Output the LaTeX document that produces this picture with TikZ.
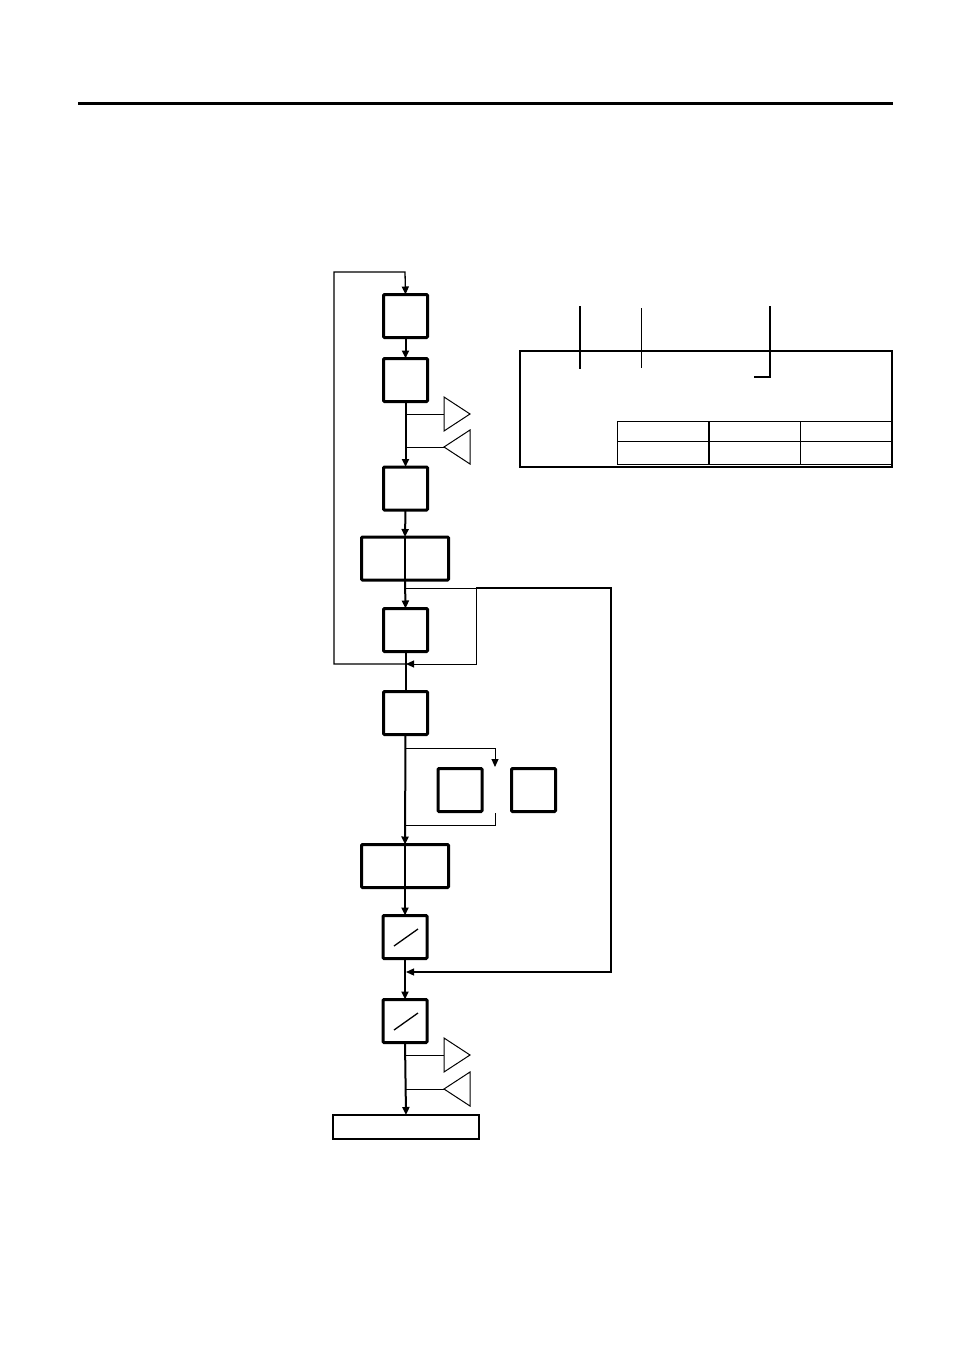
\documentclass[tikz,border=0pt]{standalone}
\usetikzlibrary{arrows.meta,shapes.geometric,calc}
\begin{document}
\begin{tikzpicture}[x=1pt,y=-1pt,
  box/.style={draw,line width=3pt,rounded corners=1pt,minimum width=44pt,minimum height=43pt,inner sep=0pt,outer sep=0pt},
  widebox/.style={box,minimum width=87pt},
  endbox/.style={draw,line width=2pt,minimum width=146pt,minimum height=24pt,inner sep=0pt,outer sep=0pt},
  tri/.style={draw,line width=1pt,isosceles triangle,isosceles triangle stretches,minimum width=34pt,minimum height=26pt,inner sep=0pt,outer sep=0pt},
  main/.style={line width=2pt},
  flow/.style={main,-{Triangle[length=8pt,width=7pt]}},
  thin/.style={line width=1pt},
  thinflow/.style={thin,-{Triangle[length=8pt,width=7pt]}},
  loopline/.style={line width=1.3pt}]
\useasboundingbox (0,0) rectangle (954,1351);
% top rule
\coordinate (r1) at (78,104);
\coordinate (r2) at (893,104);
\draw[line width=3pt] (r1) -- (r2);
% boxes
\node[box] (b1) at (405.5,316) {};
\node[box] (b2) at (405.5,380) {};
\node[box] (b3) at (405.5,488.5) {};
\node[widebox] (b4) at (405,558.5) {};
\node[box] (b5) at (405.5,630) {};
\node[box] (b6) at (405.5,713) {};
\node[box] (b7) at (460,790) {};
\node[box] (b8) at (533.5,790) {};
\node[widebox] (b9) at (405,866) {};
\node[box] (b10) at (405,937) {};
\node[box] (b11) at (405,1021) {};
\node[endbox] (b12) at (406,1127) {};
% slashes
\draw[loopline] ($(b10.center)+(-11,9)$) -- ($(b10.center)+(13,-8)$);
\draw[loopline] ($(b11.center)+(-11,9)$) -- ($(b11.center)+(13,-8)$);
% triangles
\node[tri,anchor=lower side] (t1) at (444,414) {};
\node[tri,shape border rotate=180,anchor=apex] (t2) at (444,447) {};
\node[tri,anchor=lower side] (t3) at (444,1055) {};
\node[tri,shape border rotate=180,anchor=apex] (t4) at (444,1089) {};
% junction coordinates on main line
\coordinate (j1) at (405,414);
\coordinate (j2) at (405,447);
\coordinate (j3) at (405,588);
\coordinate (j4) at (405,664);
\coordinate (j5) at (405,748);
\coordinate (j6) at (405,825);
\coordinate (j7) at (405,972);
\coordinate (j8) at (405,1055);
\coordinate (j9) at (405,1089);
\coordinate (top) at (405,272);
\coordinate (tl) at (334,272);
\coordinate (bl) at (334,664);
\coordinate (ir) at (476,588);
\coordinate (irb) at (476,664);
\coordinate (lr) at (611,588);
\coordinate (lrb) at (611,972);
\coordinate (br1) at (495,748);
\coordinate (br1e) at (495,767);
\coordinate (br2) at (495,813);
\coordinate (br2b) at (495,825);
% main line
\draw[flow] (b1.south) -- (b2.north);
\draw[flow] (b2.south) -- (b3.north);
\draw[flow] (b3.south) -- (b4.north);
\draw[main] (b4.north) -- (b4.south);
\draw[flow] (b4.south) -- (b5.north);
\draw[main] (b5.south) -- (b6.north);
\draw[flow] (b6.south) -- (b9.north);
\draw[main] (b9.north) -- (b9.south);
\draw[flow] (b9.south) -- (b10.north);
\draw[flow] (b10.south) -- (b11.north);
\draw[flow] (b11.south) -- (b12.north);
% side branches to triangles
\draw[thin] (j1) -- (t1.lower side);
\draw[thin] (j2) -- (t2.apex);
\draw[thin] (j8) -- (t3.lower side);
\draw[thin] (j9) -- (t4.apex);
% top loop
\draw[loopline,-{Triangle[length=8pt,width=7pt]}] (j4) -- (bl) -- (tl) -- (top) -- (b1.north);
% inner loop
\draw[thinflow] (j3) -- (ir) -- (irb) -- ($(j4)+(1,0)$);
% long loop
\draw[loopline,-{Triangle[length=8pt,width=7pt]}] (ir) -- (lr) -- (lrb) -- ($(j7)+(1,0)$);
% branch around b7
\draw[thinflow] (j5) -- (br1) -- (br1e);
\draw[thin] (br2) -- (br2b) -- (j6);
% right panel
\draw[line width=2pt] (519.5,351) rectangle (892,466.5);
\draw[loopline] (580,306) -- (580,369);
\draw[loopline] (641.5,308) -- (641.5,368);
\draw[line width=2pt] (770,306) -- (770,377) -- (754,377);
\draw[thin] (617,421) rectangle (892,464);
\draw[thin] (617,441) -- (892,441);
\draw[line width=2pt] (709,421) -- (709,464);
\draw[thin] (800.5,421) -- (800.5,464);
\end{tikzpicture}
\end{document}
